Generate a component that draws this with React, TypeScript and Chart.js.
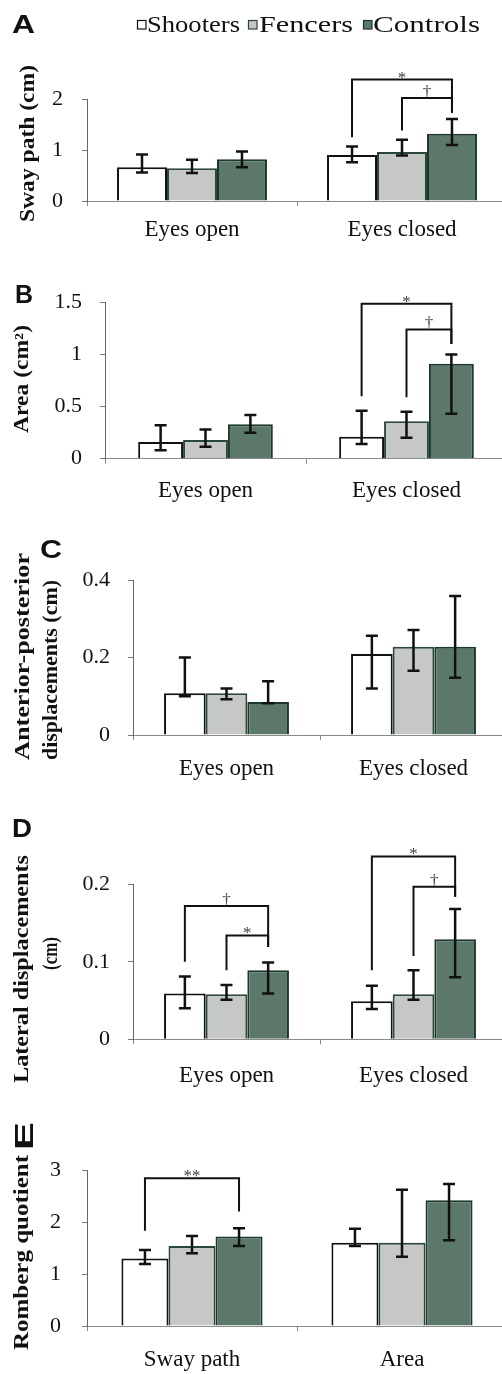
import React, { useEffect, useRef } from "react";
import { Chart, registerables } from "chart.js";

Chart.register(...registerables);

// ---------------- data ----------------
const seriesNames = ["Shooters", "Fencers", "Controls"];
const eyeConditions = ["Eyes open", "Eyes closed"];
const rombergMeasures = ["Sway path", "Area"];

// A. Sway path (cm)
const swayTicks = [0, 1, 2];
const swayShooters = [0.66, 0.9];
const swayFencers = [0.64, 0.96];
const swayControls = [0.82, 1.32];
const swayLow = [[0.56, 0.76], [0.55, 0.89], [0.66, 1.1]];
const swayHigh = [[0.91, 1.07], [0.81, 1.2], [0.97, 1.61]];
const swayBrackets = [
  { cat: 1, from: 0, to: 2, left: 1.25, right: 1.73, top: 2.38, label: "*" },
  { cat: 1, from: 1, to: 2, left: 1.38, right: 1.73, top: 2.02, label: "†" },
];

// B. Area (cm²)
const areaTicks = [0, 0.5, 1, 1.5];
const areaShooters = [0.16, 0.21];
const areaFencers = [0.18, 0.36];
const areaControls = [0.33, 0.91];
const areaLow = [[0.08, 0.14], [0.115, 0.2], [0.25, 0.43]];
const areaHigh = [[0.32, 0.46], [0.28, 0.45], [0.42, 1.0]];
const areaBrackets = [
  { cat: 1, from: 0, to: 2, left: 0.6, right: 1.1, top: 1.485, label: "*" },
  { cat: 1, from: 1, to: 2, left: 0.59, right: 1.1, top: 1.24, label: "†" },
];

// C. Anterior-posterior displacements (cm)
const apTicks = [0, 0.2, 0.4];
const apShooters = [0.108, 0.209];
const apFencers = [0.108, 0.228];
const apControls = [0.085, 0.228];
const apLow = [[0.1, 0.12], [0.092, 0.166], [0.082, 0.148]];
const apHigh = [[0.2, 0.256], [0.12, 0.271], [0.139, 0.359]];

// D. Lateral displacements (cm)
const latTicks = [0, 0.1, 0.2];
const latShooters = [0.059, 0.049];
const latFencers = [0.058, 0.058];
const latControls = [0.089, 0.129];
const latLow = [[0.04, 0.039], [0.051, 0.051], [0.059, 0.08]];
const latHigh = [[0.081, 0.069], [0.07, 0.089], [0.099, 0.168]];
const latBrackets = [
  { cat: 0, from: 0, to: 2, left: 0.1, right: 0.119, top: 0.172, label: "†" },
  { cat: 0, from: 1, to: 2, left: 0.089, right: 0.119, top: 0.134, label: "*" },
  { cat: 1, from: 0, to: 2, left: 0.089, right: 0.184, top: 0.236, label: "*" },
  { cat: 1, from: 1, to: 2, left: 0.1075, right: 0.184, top: 0.197, label: "†" },
];

// E. Romberg quotient
const rqTicks = [0, 1, 2, 3];
const rqShooters = [1.3, 1.6];
const rqFencers = [1.54, 1.6];
const rqControls = [1.72, 2.42];
const rqLow = [[1.19, 1.54], [1.4, 1.33], [1.54, 1.65]];
const rqHigh = [[1.46, 1.87], [1.73, 2.62], [1.88, 2.73]];
const rqBrackets = [
  { cat: 0, from: 0, to: 2, left: 1.83, right: 2.2, top: 2.84, label: "**" },
];

const titleA = ["Sway path (cm)"];
const titleB = ["Area (cm²)"];
const titleC = ["Anterior-posterior", "displacements (cm)"];
const titleD = ["Lateral displacements", "(cm)"];
const titleE = ["Romberg quotient"];

// ---------------- styles ----------------
const barFills = ["#ffffff", "#c6c8c5", "#5b786a"];
const barBorders = ["#111111", "#2a473b", "#1c382c"];
const SERIF = "'Liberation Serif', 'Times New Roman', serif";
const SANS = "'Liberation Sans', Arial, sans-serif";
const CANVAS_W = 510;
const XH = 48;

type Bracket = { cat: number; from: number; to: number; left: number; right: number; top: number; label: string };
type TitleLine = { text: string; cx: number; cy: number; len: number };
type Letter = { text: string; x: number; y: number; w: number; rotated?: boolean };

interface PanelSpec {
  top: number;
  height: number;
  areaLeft: number;
  areaTop: number;
  areaBottom: number;
  catPct: number;
  yPad: number;
  xPad: number;
  categories: string[];
  means: number[][];
  low: number[][];
  high: number[][];
  ticks: number[];
  brackets: Bracket[];
  titles: TitleLine[];
  letter: Letter;
  legend?: boolean;
}

const panels: PanelSpec[] = [
  {
    top: 0, height: 250, areaLeft: 87, areaTop: 99, areaBottom: 201, catPct: 0.714, yPad: 19, xPad: 10,
    categories: eyeConditions, means: [swayShooters, swayFencers, swayControls], low: swayLow, high: swayHigh,
    ticks: swayTicks, brackets: swayBrackets,
    titles: [{ text: titleA[0], cx: 28.5, cy: 143.5, len: 157 }],
    letter: { text: "A", x: 12, y: 33, w: 23 }, legend: true,
  },
  {
    top: 250, height: 270, areaLeft: 105, areaTop: 302.3, areaBottom: 458.7, catPct: 0.67, yPad: 18, xPad: 13.5,
    categories: eyeConditions, means: [areaShooters, areaFencers, areaControls], low: areaLow, high: areaHigh,
    ticks: areaTicks, brackets: areaBrackets,
    titles: [{ text: titleB[0], cx: 23, cy: 379, len: 108 }],
    letter: { text: "B", x: 15, y: 303, w: 18 },
  },
  {
    top: 520, height: 290, areaLeft: 133, areaTop: 580, areaBottom: 735, catPct: 0.668, yPad: 18, xPad: 15,
    categories: eyeConditions, means: [apShooters, apFencers, apControls], low: apLow, high: apHigh,
    ticks: apTicks, brackets: [],
    titles: [
      { text: titleC[0], cx: 23.5, cy: 656.5, len: 207 },
      { text: titleC[1], cx: 51.5, cy: 670, len: 180 },
    ],
    letter: { text: "C", x: 40, y: 558, w: 22 },
  },
  {
    top: 810, height: 290, areaLeft: 133, areaTop: 884.3, areaBottom: 1039.3, catPct: 0.668, yPad: 18, xPad: 17.5,
    categories: eyeConditions, means: [latShooters, latFencers, latControls], low: latLow, high: latHigh,
    ticks: latTicks, brackets: latBrackets,
    titles: [
      { text: titleD[0], cx: 23, cy: 969, len: 228 },
      { text: titleD[1], cx: 51.5, cy: 953.5, len: 33 },
    ],
    letter: { text: "D", x: 12, y: 837, w: 20 },
  },
  {
    top: 1100, height: 274, areaLeft: 87, areaTop: 1170, areaBottom: 1326, catPct: 0.672, yPad: 21, xPad: 15.5,
    categories: rombergMeasures, means: [rqShooters, rqFencers, rqControls], low: rqLow, high: rqHigh,
    ticks: rqTicks, brackets: rqBrackets,
    titles: [{ text: titleE[0], cx: 22.5, cy: 1252.5, len: 195 }],
    letter: { text: "E", x: 33, y: 1150, w: 28, rotated: true },
  },
];

const legendBoxX = [137, 248, 363];
const legendTextX = [147, 259, 373];
const legendTextW = [93, 94, 107];

function fitText(
  ctx: CanvasRenderingContext2D, text: string, x: number, y: number, width: number,
  font: string, align: CanvasTextAlign, baseline: CanvasTextBaseline, rotated: boolean, color = "#111",
) {
  ctx.save();
  ctx.font = font;
  const w = ctx.measureText(text).width || 1;
  ctx.translate(x, y);
  if (rotated) ctx.rotate(-Math.PI / 2);
  ctx.scale(width / w, 1);
  ctx.textAlign = align;
  ctx.textBaseline = baseline;
  ctx.fillStyle = color;
  ctx.fillText(text, 0, 0);
  ctx.restore();
}

function makeOverlay(spec: PanelSpec) {
  return {
    id: "overlay",
    afterDatasetsDraw(chart: any) {
      const ctx: CanvasRenderingContext2D = chart.ctx;
      const y = chart.scales.y;
      ctx.save();
      ctx.strokeStyle = "#111";
      ctx.lineWidth = 2.5;
      spec.means.forEach((_, i) => {
        const meta = chart.getDatasetMeta(i);
        meta.data.forEach((bar: any, j: number) => {
          const x = bar.x;
          const yh = y.getPixelForValue(spec.high[i][j]);
          const yl = y.getPixelForValue(spec.low[i][j]);
          ctx.beginPath();
          ctx.moveTo(x, yh);
          ctx.lineTo(x, yl);
          ctx.moveTo(x - 6, yh);
          ctx.lineTo(x + 6, yh);
          ctx.moveTo(x - 6, yl);
          ctx.lineTo(x + 6, yl);
          ctx.stroke();
        });
      });
      ctx.restore();
    },
    afterDraw(chart: any) {
      const ctx: CanvasRenderingContext2D = chart.ctx;
      const y = chart.scales.y;
      // significance brackets
      ctx.save();
      spec.brackets.forEach((b) => {
        const xa = chart.getDatasetMeta(b.from).data[b.cat].x;
        const xb = chart.getDatasetMeta(b.to).data[b.cat].x;
        const yt = y.getPixelForValue(b.top);
        ctx.strokeStyle = "#111";
        ctx.lineWidth = 2;
        ctx.lineJoin = "miter";
        ctx.beginPath();
        ctx.moveTo(xa, y.getPixelForValue(b.left));
        ctx.lineTo(xa, yt);
        ctx.lineTo(xb, yt);
        ctx.lineTo(xb, y.getPixelForValue(b.right));
        ctx.stroke();
        ctx.fillStyle = "#444";
        ctx.font = `17px ${SERIF}`;
        ctx.textAlign = "center";
        ctx.textBaseline = "alphabetic";
        const dy = b.label === "†" ? -1 : 3;
        ctx.fillText(b.label, (xa + xb) / 2, yt + dy);
      });
      ctx.restore();
      // axis titles
      spec.titles.forEach((t) => {
        fitText(ctx, t.text, t.cx, t.cy - spec.top, t.len, `bold 20px ${SERIF}`, "center", "middle", true);
      });
      // panel letter
      const L = spec.letter;
      fitText(ctx, L.text, L.x, L.y - spec.top, L.w, `bold 25px ${SANS}`, "left", "alphabetic", !!L.rotated);
      // legend
      if (spec.legend) {
        seriesNames.forEach((name, i) => {
          ctx.save();
          ctx.fillStyle = barFills[i];
          ctx.fillRect(legendBoxX[i], 20, 9, 9);
          ctx.strokeStyle = i === 0 ? "#111" : barBorders[i];
          ctx.lineWidth = 1.2;
          ctx.strokeRect(legendBoxX[i] + 0.5, 20.5, 8.5, 8.5);
          ctx.restore();
          fitText(ctx, name, legendTextX[i], 31.5, legendTextW[i], `23px ${SERIF}`, "left", "alphabetic", false);
        });
      }
    },
  };
}

function Panel({ spec }: { spec: PanelSpec }) {
  const ref = useRef<HTMLCanvasElement>(null);
  useEffect(() => {
    const canvas = ref.current;
    if (!canvas) return;
    const chart = new Chart(canvas, {
      type: "bar",
      data: {
        labels: spec.categories,
        datasets: spec.means.map((m, i) => ({
          label: seriesNames[i],
          data: m,
          backgroundColor: barFills[i],
          borderColor: barBorders[i],
          borderWidth: 2,
          barPercentage: 1,
          categoryPercentage: spec.catPct,
        })),
      },
      options: {
        responsive: false,
        animation: false,
        devicePixelRatio: 1,
        layout: {
          padding: {
            left: 0,
            right: CANVAS_W - 507,
            top: spec.areaTop - spec.top,
            bottom: Math.max(0, spec.height - (spec.areaBottom - spec.top) - XH),
          },
        },
        plugins: { legend: { display: false }, tooltip: { enabled: false } },
        scales: {
          x: {
            grid: { display: true, drawOnChartArea: false, tickLength: 5, color: "#888", offset: true },
            border: { display: true, color: "#8a8a8a", width: 1 },
            ticks: {
              font: { family: SERIF, size: 23 },
              color: "#111",
              padding: spec.xPad,
              maxRotation: 0,
              autoSkip: false,
            },
            afterFit: (s: any) => {
              s.height = XH;
            },
          },
          y: {
            min: spec.ticks[0],
            max: spec.ticks[spec.ticks.length - 1],
            grid: { display: true, drawOnChartArea: false, tickLength: 5, color: "#777" },
            border: { display: true, color: "#666", width: 1 },
            ticks: {
              font: { family: SERIF, size: 22 },
              color: "#111",
              padding: spec.yPad,
              callback: (v: any) => String(Number(v)),
            },
            afterBuildTicks: (s: any) => {
              s.ticks = spec.ticks.map((v) => ({ value: v }));
            },
            afterFit: (s: any) => {
              s.width = spec.areaLeft;
            },
          },
        },
      },
      plugins: [makeOverlay(spec)],
    } as any);
    return () => chart.destroy();
  }, [spec]);
  return (
    <canvas
      ref={ref}
      width={CANVAS_W}
      height={spec.height}
      style={{ position: "absolute", left: 0, top: spec.top, width: CANVAS_W, height: spec.height }}
    />
  );
}

export default function App() {
  return (
    <div
      style={{
        position: "absolute",
        left: 0,
        top: 0,
        width: 502,
        height: 1374,
        overflow: "hidden",
        background: "#ffffff",
      }}
    >
      {panels.map((p, i) => (
        <Panel key={i} spec={p} />
      ))}
    </div>
  );
}
